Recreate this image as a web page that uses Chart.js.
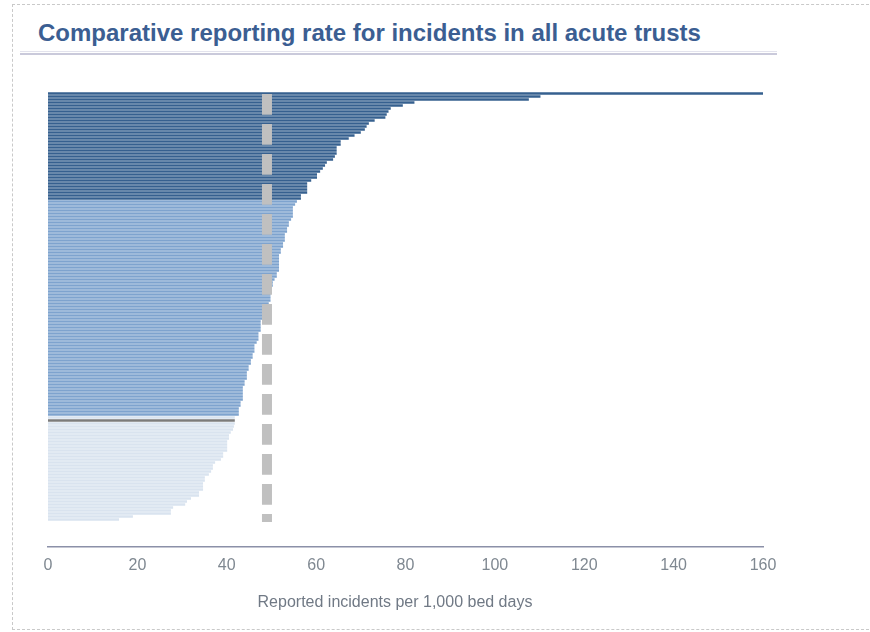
<!DOCTYPE html>
<html>
<head>
<meta charset="utf-8">
<script src="https://cdn.jsdelivr.net/npm/chart.js@4.4.0/dist/chart.umd.min.js"></script>
<style>
    body {
        margin: 0;
        width: 870px;
        height: 632px;
        overflow: hidden;
        position: relative;
        background: #fff;
        font-family: "Liberation Sans", Arial, sans-serif;
    }
    .frame {
        position: absolute;
        left: 12px;
        top: 4px;
        width: 880px;
        height: 624px;
        border: 1px dashed #c9c9c9;
    }
    .chart-title {
        position: absolute;
        left: 38px;
        top: 19px;
        margin: 0;
        font-size: 24px;
        line-height: 28px;
        font-weight: bold;
        color: #3b5e92;
        white-space: nowrap;
    }
    .rule-light {
        position: absolute;
        left: 20px;
        top: 51px;
        width: 757px;
        height: 1px;
        background: #e3e3ed;
    }
    .rule-dark {
        position: absolute;
        left: 20px;
        top: 53px;
        width: 757px;
        height: 2px;
        background: #cacadb;
    }
    .axis-title {
        position: absolute;
        left: 195px;
        top: 592px;
        width: 400px;
        text-align: center;
        font-size: 16px;
        line-height: 20px;
        color: #707985;
    }
    #rateChart {
        position: absolute;
        left: 0;
        top: 0;
    }
</style>
</head>
<body>
<div class="frame"></div>
<h1 class="chart-title">Comparative reporting rate for incidents in all acute trusts</h1>
<div class="rule-light"></div>
<div class="rule-dark"></div>
<canvas id="rateChart" width="870" height="632"></canvas>
<div class="axis-title" id="x-axis-title"></div>

<script>
// Reporting rate for each acute trust, highest first
const trustRates = [
    160, 110.2, 107.6, 82.0, 79.4, 76.7, 76.2, 75.8, 75.5, 73.1,
    71.8, 71.3, 70.9, 70.0, 68.6, 67.3, 65.5, 65.5, 64.6, 64.6,
    64.6, 64.2, 63.8, 62.4, 62.0, 61.5, 60.9, 60.2, 60.2, 58.9,
    58.0, 58.0, 58.0, 58.0, 56.6, 56.6, 55.7, 55.3, 54.8, 54.8,
    54.8, 54.8, 54.4, 53.9, 53.9, 53.5, 53.5, 53.0, 53.0, 53.0,
    52.6, 52.6, 52.1, 52.1, 51.7, 51.7, 51.7, 51.7, 51.7, 51.7,
    51.2, 51.2, 50.7, 50.3, 50.3, 49.8, 49.8, 49.8, 49.8, 49.8,
    49.4, 48.9, 48.9, 48.9, 48.9, 48.4, 47.6, 47.6, 47.6, 47.6,
    47.1, 47.1, 47.1, 46.7, 46.2, 46.2, 46.2, 45.8, 45.8, 45.4,
    45.4, 44.9, 44.9, 44.5, 44.5, 44.5, 44.0, 44.0, 43.6, 43.6,
    43.6, 43.6, 43.6, 43.1, 43.1, 42.7, 42.7, 42.7, 41.8, 41.8,
    41.8, 41.6, 41.4, 40.9, 40.5, 40.5, 40.1, 40.1, 40.1, 40.1,
    39.2, 39.2, 38.7, 37.4, 36.9, 36.9, 36.5, 36.0, 35.1, 35.1,
    34.7, 34.7, 34.7, 33.8, 33.8, 32.0, 31.1, 30.7, 28.0, 27.5,
    27.5, 19.0, 15.9
];

// upper quartile, middle half, lower quartile
const bandSizes = [36, 72, 35];
const highlightedTrust = 109;
const nationalMedian = 49;
const xTicks = [0, 20, 40, 60, 80, 100, 120, 140, 160];
const xAxisTitle = 'Reported incidents per 1,000 bed days';

function barColour(i) {
    if (i === highlightedTrust) return '#7b7b7b';
    if (i < bandSizes[0]) return '#36608f';
    if (i < bandSizes[0] + bandSizes[1]) return '#7ea3ce';
    return '#d9e3ef';
}

// dashed marker for the national median
const medianLine = {
    id: 'medianLine',
    afterDatasetsDraw(chart) {
        const ctx = chart.ctx;
        const x = chart.scales.x.getPixelForValue(nationalMedian);
        const top = chart.scales.y.getPixelForValue(-0.5) + 2;
        const bottom = chart.scales.y.getPixelForValue(trustRates.length - 0.5) + 1;
        ctx.save();
        ctx.strokeStyle = '#c0c0c0';
        ctx.lineWidth = 10;
        ctx.setLineDash([20.7, 9.3]);
        ctx.beginPath();
        ctx.moveTo(x, top);
        ctx.lineTo(x, bottom);
        ctx.stroke();
        ctx.restore();
    }
};

document.addEventListener('DOMContentLoaded', function() {
    document.getElementById('x-axis-title').textContent = xAxisTitle;

    const ctx = document.getElementById('rateChart');

    new Chart(ctx, {
        type: 'bar',
        data: {
            datasets: [{
                data: trustRates.map((v, i) => ({ x: v, y: i })),
                backgroundColor: trustRates.map((v, i) => barColour(i)),
                borderWidth: 0,
                categoryPercentage: 1,
                barPercentage: 0.9
            }]
        },
        options: {
            indexAxis: 'y',
            responsive: false,
            animation: false,
            layout: {
                padding: { left: 48, right: 107, top: 92, bottom: 0 }
            },
            plugins: {
                legend: { display: false },
                tooltip: { enabled: false }
            },
            scales: {
                x: {
                    type: 'linear',
                    min: 0,
                    max: 160,
                    afterBuildTicks: scale => {
                        scale.ticks = xTicks.map(v => ({ value: v }));
                    },
                    afterFit: scale => {
                        scale.height = 85;
                    },
                    grid: { display: false, drawTicks: false },
                    border: { display: true, color: '#8b90a8', width: 1.5 },
                    ticks: {
                        color: '#7f8891',
                        padding: 9,
                        maxRotation: 0,
                        font: { family: '"Liberation Sans", Arial, sans-serif', size: 16 }
                    }
                },
                y: {
                    type: 'linear',
                    display: false,
                    reverse: true,
                    offset: false,
                    bounds: 'data',
                    grace: 0,
                    min: -0.5,
                    // leave empty room between the last bar and the axis
                    max: trustRates.length - 0.5 + 8.67
                }
            }
        },
        plugins: [medianLine]
    });
});
</script>
</body>
</html>
